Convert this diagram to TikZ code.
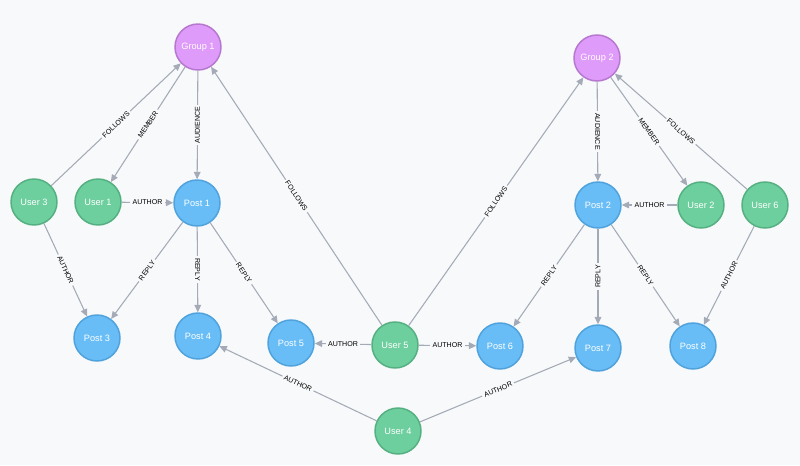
\documentclass[tikz,border=0pt]{standalone}
\usepackage{fontspec}
\setmainfont{Liberation Sans}
\usetikzlibrary{arrows.meta}
\definecolor{bg}{HTML}{F8F9FB}
\definecolor{userfill}{HTML}{6DCE9E}
\definecolor{userdraw}{HTML}{55B081}
\definecolor{postfill}{HTML}{68BDF6}
\definecolor{postdraw}{HTML}{4FA2DB}
\definecolor{groupfill}{HTML}{DE9BF9}
\definecolor{groupdraw}{HTML}{B678CF}
\definecolor{rel}{HTML}{A5ABB6}
\tikzset{
x=0.75pt, y=-0.75pt, % one unit is one pixel of the screenshot
>={Triangle[length=5.5pt,width=5pt]},
every ent/.style={circle, minimum size=34.5pt, inner sep=0pt, line width=1.1pt, text=white, font=\fontsize{6.9}{8}\selectfont},
user/.style={every ent, draw=userdraw, fill=userfill},
post/.style={every ent, draw=postdraw, fill=postfill},
group/.style={every ent, draw=groupdraw, fill=groupfill},
rel/.style={->, color=rel, line width=0.8pt}, % relationship arrows
lbl/.style={fill=bg, inner sep=1.6pt, text=black, font=\fontsize{5.3}{6}\selectfont}, % text on a relationship
}
\begin{document}
\begin{tikzpicture}
\fill[bg] (0,0) rectangle (800,465);

\node[group] (g1) at (198,47) {Group 1};
\node[group] (g2) at (597,58) {Group 2};
\node[user] (u3) at (34,202) {User 3};
\node[user] (u1) at (98,202) {User 1};
\node[post] (p1) at (197,203) {Post 1};
\node[post] (p2) at (598,205) {Post 2};
\node[user] (u2) at (701,205) {User 2};
\node[user] (u6) at (765,205) {User 6};
\node[post] (p3) at (97,338) {Post 3};
\node[post] (p4) at (198,336) {Post 4};
\node[post] (p5) at (291,343) {Post 5};
\node[user] (u5) at (395,345) {User 5};
\node[post] (p6) at (500,346) {Post 6};
\node[post] (p7) at (598,348) {Post 7};
\node[post] (p8) at (693,346) {Post 8};
\node[user] (u4) at (398,431) {User 4};

% group 1 side
\path[rel]
(u3) edge node[lbl, sloped] {FOLLOWS} (g1)
(g1) edge node[lbl, sloped] {MEMBER} (u1)
(g1) edge node[lbl, rotate=90] {AUDIENCE} (p1)
(u1) edge node[lbl] {AUTHOR} (p1)
(u3) edge node[lbl, sloped] {AUTHOR} (p3)
(p1) edge node[lbl, sloped] {REPLY} (p3)
(p1) edge node[lbl, rotate=-90] {REPLY} (p4)
(p1) edge node[lbl, sloped] {REPLY} (p5);

% group 2 side
\path[rel]
(g2) edge node[lbl, rotate=-90] {AUDIENCE} (p2)
(g2) edge node[lbl, sloped] {MEMBER} (u2)
(u6) edge node[lbl, sloped] {FOLLOWS} (g2)
(u2) edge node[lbl] {AUTHOR} (p2)
(p2) edge node[lbl, sloped] {REPLY} (p6)
(p2) edge node[lbl, rotate=90] {REPLY} (p7)
(p2) edge node[lbl, sloped] {REPLY} (p8)
(u6) edge node[lbl, sloped] {AUTHOR} (p8);

% users in the middle
\path[rel]
(u5) edge node[lbl, sloped] {FOLLOWS} (g1)
(u5) edge node[lbl, sloped] {FOLLOWS} (g2)
(u5) edge node[lbl] {AUTHOR} (p5)
(u5) edge node[lbl] {AUTHOR} (p6)
(u4) edge node[lbl, sloped] {AUTHOR} (p4)
(u4) edge node[lbl, sloped] {AUTHOR} (p7);
\end{tikzpicture}
\end{document}
